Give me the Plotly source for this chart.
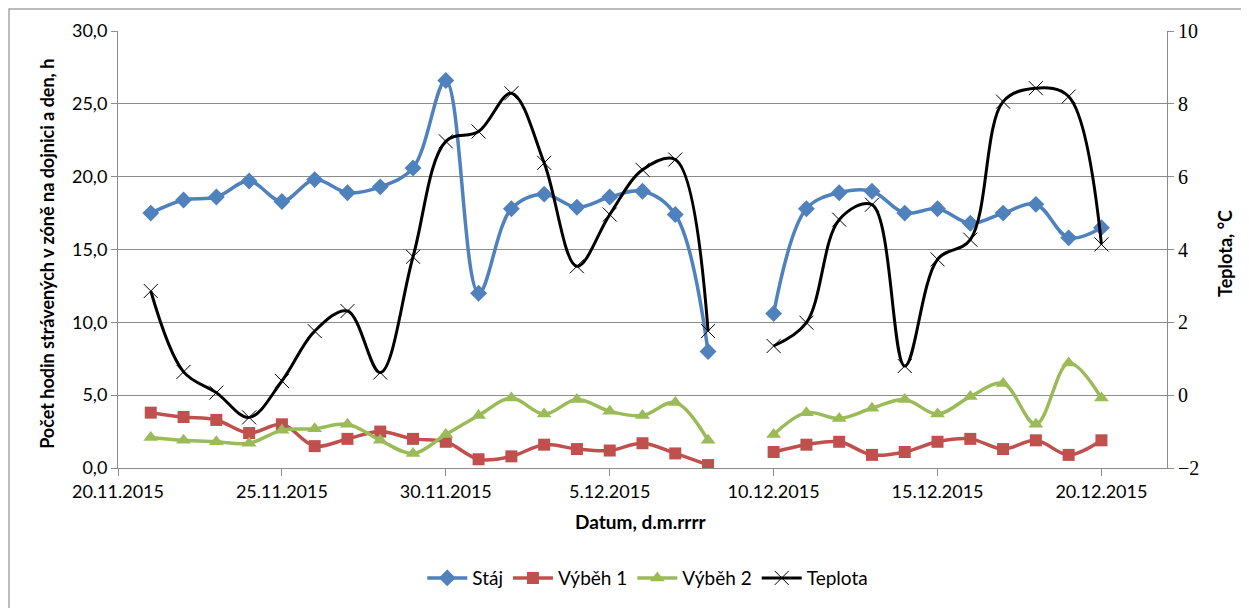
import plotly.graph_objects as go

dates = ["2015-11-21", "2015-11-22", "2015-11-23", "2015-11-24", "2015-11-25",
         "2015-11-26", "2015-11-27", "2015-11-28", "2015-11-29", "2015-11-30",
         "2015-12-01", "2015-12-02", "2015-12-03", "2015-12-04", "2015-12-05",
         "2015-12-06", "2015-12-07", "2015-12-08", "2015-12-09", "2015-12-10",
         "2015-12-11", "2015-12-12", "2015-12-13", "2015-12-14", "2015-12-15",
         "2015-12-16", "2015-12-17", "2015-12-18", "2015-12-19", "2015-12-20"]

staj = [17.5, 18.4, 18.6, 19.7, 18.3, 19.8, 18.9, 19.3, 20.6, 26.6,
        12.0, 17.8, 18.8, 17.9, 18.6, 19.0, 17.4, 8.0, None, 10.6,
        17.8, 18.9, 19.0, 17.5, 17.8, 16.8, 17.5, 18.1, 15.8, 16.5]

vybeh1 = [3.8, 3.5, 3.3, 2.4, 3.0, 1.5, 2.0, 2.5, 2.0, 1.8,
          0.6, 0.8, 1.6, 1.3, 1.2, 1.7, 1.0, 0.2, None, 1.1,
          1.6, 1.8, 0.9, 1.1, 1.8, 2.0, 1.3, 1.9, 0.9, 1.9]

vybeh2 = [2.1, 1.9, 1.8, 1.7, 2.6, 2.7, 3.0, 1.9, 1.0, 2.3,
          3.6, 4.8, 3.7, 4.7, 3.9, 3.6, 4.5, 1.9, None, 2.3,
          3.8, 3.4, 4.1, 4.7, 3.7, 4.9, 5.8, 3.0, 7.2, 4.8]

teplota = [2.86, 0.64, 0.07, -0.61, 0.39, 1.76, 2.31, 0.62, 3.8, 6.97,
           7.24, 8.29, 6.38, 3.54, 4.96, 6.19, 6.47, 1.76, None, 1.35,
           1.99, 4.82, 5.23, 0.80, 3.73, 4.27, 8.06, 8.43, 8.2, 4.14]

tick_dates = ["2015-11-20", "2015-11-25", "2015-11-30", "2015-12-05",
              "2015-12-10", "2015-12-15", "2015-12-20"]
tick_labels = ["20.11.2015", "25.11.2015", "30.11.2015", "5.12.2015",
               "10.12.2015", "15.12.2015", "20.12.2015"]

left_ticks = [0, 5, 10, 15, 20, 25, 30]
left_labels = ["0,0", "5,0", "10,0", "15,0", "20,0", "25,0", "30,0"]
right_ticks = [-2, 0, 2, 4, 6, 8, 10]

FONT = "Lato"
GRAY = "#8c8c8c"

fig = go.Figure()

fig.add_trace(go.Scatter(
    x=dates, y=staj, name="Stáj", mode="lines+markers",
    line=dict(color="#4F81BD", width=3.5, shape="spline", smoothing=1),
    marker=dict(symbol="diamond", size=13, color="#4F81BD"),
    connectgaps=False))
fig.add_trace(go.Scatter(
    x=dates, y=vybeh1, name="Výběh 1", mode="lines+markers",
    line=dict(color="#C0504D", width=3.5, shape="spline", smoothing=1),
    marker=dict(symbol="square", size=12, color="#C0504D"),
    connectgaps=False))
fig.add_trace(go.Scatter(
    x=dates, y=vybeh2, name="Výběh 2", mode="lines+markers",
    line=dict(color="#9BBB59", width=3.5, shape="spline", smoothing=1),
    marker=dict(symbol="triangle-up", size=13, color="#9BBB59"),
    connectgaps=False))
fig.add_trace(go.Scatter(
    x=dates, y=teplota, name="Teplota", mode="lines+markers", yaxis="y2",
    line=dict(color="#000000", width=3, shape="spline", smoothing=1),
    marker=dict(symbol="x-thin-open", size=14,
                line=dict(color="#9a90b8", width=1)),
    connectgaps=False))

fig.update_layout(
    width=1241, height=600,
    margin=dict(l=110, r=82, t=23, b=139),
    paper_bgcolor="white", plot_bgcolor="white",
    font=dict(family=FONT, size=18, color="#000000"),
    showlegend=True,
    legend=dict(orientation="h", x=0.505, xanchor="center", y=-0.249,
                yanchor="middle", font=dict(family=FONT, size=19),
                itemwidth=40, tracegroupgap=0),
    xaxis=dict(
        type="date", range=["2015-11-20", "2015-12-22"],
        tickvals=tick_dates, ticktext=tick_labels,
        showgrid=False, zeroline=False,
        showline=True, linecolor=GRAY, linewidth=1,
        ticks="outside", ticklen=7, tickcolor=GRAY,
        tickfont=dict(family=FONT, size=18)),
    yaxis=dict(
        range=[0, 30], tickvals=left_ticks, ticktext=left_labels,
        showgrid=True, gridcolor=GRAY, gridwidth=1, zeroline=False,
        showline=True, linecolor=GRAY, linewidth=1,
        ticks="outside", ticklen=6, tickcolor=GRAY,
        tickfont=dict(family=FONT, size=18)),
    yaxis2=dict(
        overlaying="y", side="right", range=[-2, 10], tickvals=right_ticks,
        showgrid=False, zeroline=False,
        showline=True, linecolor=GRAY, linewidth=1,
        ticks="outside", ticklen=6, tickcolor=GRAY,
        tickfont=dict(family="Liberation Serif", size=20)),
    shapes=[dict(type="rect", xref="paper", yref="paper",
                 x0=-0.1039, x1=1.09, y0=-0.34, y1=1.0502,
                 line=dict(color="#a6a6a6", width=1.5), layer="below")],
    annotations=[
        dict(text="<b>Počet hodin strávených v zóně na dojnici a den, h</b>",
             xref="paper", yref="paper", x=-0.0677, y=0.49,
             textangle=-90, showarrow=False, xanchor="center", yanchor="middle",
             font=dict(family=FONT, size=18)),
        dict(text="<b>Teplota, °C</b>",
             xref="paper", yref="paper", x=1.0553, y=0.49,
             textangle=-90, showarrow=False, xanchor="center", yanchor="middle",
             font=dict(family=FONT, size=18)),
        dict(text="<b>Datum, d.m.rrrr</b>",
             xref="paper", yref="paper", x=0.498, y=-0.123,
             showarrow=False, xanchor="center", yanchor="middle",
             font=dict(family=FONT, size=19)),
    ],
)

fig.write_html("out.html")
